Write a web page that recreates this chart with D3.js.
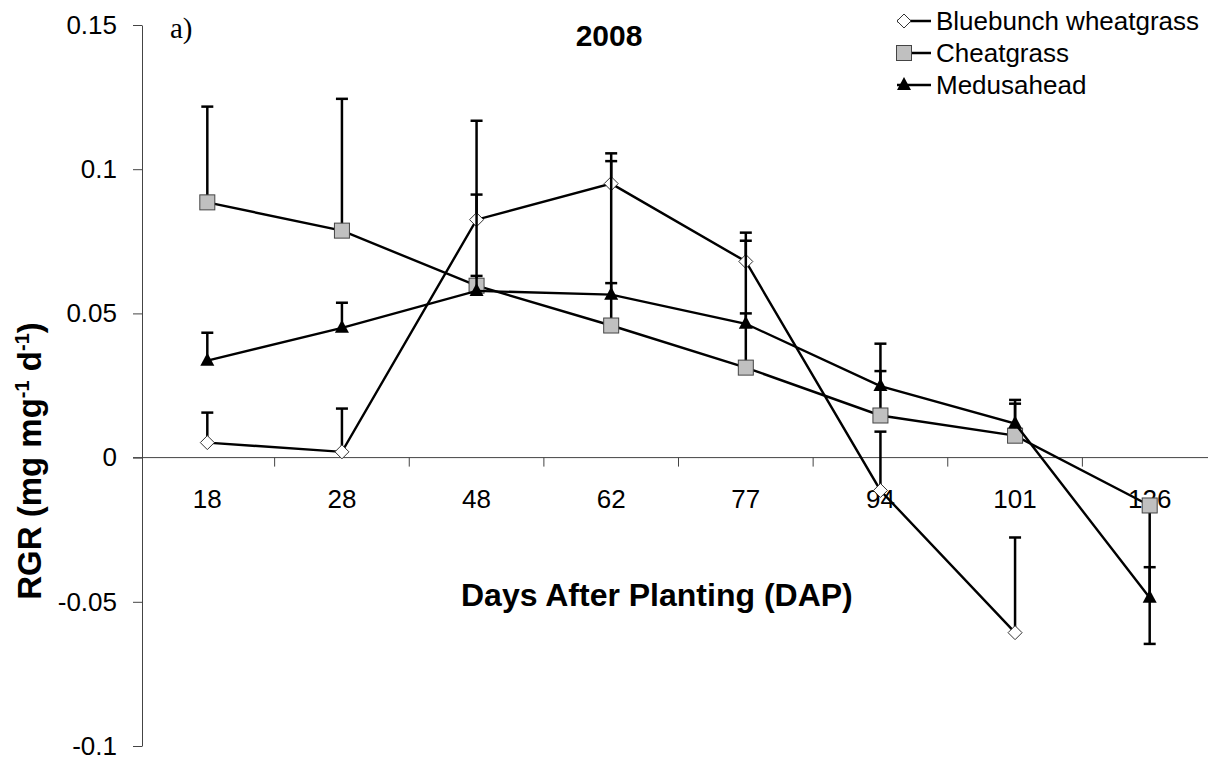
<!DOCTYPE html>
<html lang="en">

<head>
    <meta charset="utf-8">
    <title>RGR 2008</title>
    <script type="text/javascript" src="https://d3js.org/d3.v7.min.js"></script>
    <style>
        body { margin: 0; background: #fff; }
        text { font-family: "Liberation Sans", Arial, sans-serif; fill: #000; }
    </style>
</head>

<body>
    <div id="container"></div>
    <script type="text/javascript">
        // days after planting
        var days = ["18", "28", "48", "62", "77", "94", "101", "126"];

        // RGR means (null = no point)
        var bluebunch = [0.0052, 0.0020, 0.0825, 0.0950, 0.0680, -0.0114, -0.0607, null];
        var cheatgrass = [0.0885, 0.0787, 0.0596, 0.0458, 0.0312, 0.0146, 0.0076, -0.0166];
        var medusahead = [0.0336, 0.0450, 0.0578, 0.0565, 0.0464, 0.0248, 0.0118, -0.0486];

        // one-sided error bars (sign = direction)
        var bluebunchErr = [0.0104, 0.0150, 0.0343, 0.0105, 0.0100, 0.0204, 0.0330, null];
        var cheatgrassErr = [0.0332, 0.0457, 0.0316, 0.0570, 0.0440, 0.0154, 0.0111, -0.0480];
        var medusaheadErr = [0.0097, 0.0087, 0.0052, 0.0040, 0.0036, 0.0147, 0.0082, 0.0106];

        var yTicks = [-0.1, -0.05, 0, 0.05, 0.1, 0.15];

        var w = 1215;
        var h = 761;
        const svg = d3.select("div#container")
            .append("svg")
            .attr("width", w)
            .attr("height", h);

        var x = d3.scaleBand().domain(days).range([140, 1217]);
        var y = d3.scaleLinear().domain([-0.1, 0.15]).range([746, 25]);
        var cx = (d) => x(d) + x.bandwidth() / 2;

        // y axis
        var yAxis = d3.axisLeft(y)
            .tickValues(yTicks)
            .tickFormat((d) => String(+d.toFixed(2)))
            .tickSize(9)
            .tickSizeOuter(0)
            .tickPadding(16);
        var gy = svg.append("g").attr("transform", "translate(142,0)").call(yAxis);
        gy.select(".domain").attr("stroke", "#444");
        gy.selectAll(".tick line").attr("stroke", "#444");
        gy.selectAll("text").style("font-size", "26px").attr("fill", "#000");

        // x axis at zero: line, boundary ticks, centred labels
        var y0 = y(0);
        svg.append("line")
            .attr("x1", 133).attr("x2", 1208)
            .attr("y1", y0).attr("y2", y0)
            .attr("stroke", "#444");
        svg.selectAll("line.xtick")
            .data(days.slice(1))
            .enter()
            .append("line")
            .attr("class", "xtick")
            .attr("x1", (d) => x(d)).attr("x2", (d) => x(d))
            .attr("y1", y0).attr("y2", y0 + 9)
            .attr("stroke", "#444");
        svg.selectAll("text.xlab")
            .data(days)
            .enter()
            .append("text")
            .attr("class", "xlab")
            .attr("x", cx)
            .attr("y", y0 + 50)
            .attr("text-anchor", "middle")
            .style("font-size", "26px")
            .text((d) => d);

        var series = [
            { name: "Bluebunch wheatgrass", vals: bluebunch, errs: bluebunchErr, shape: "diamond" },
            { name: "Cheatgrass", vals: cheatgrass, errs: cheatgrassErr, shape: "square" },
            { name: "Medusahead", vals: medusahead, errs: medusaheadErr, shape: "triangle" }
        ];

        function marker(sel, shape) {
            if (shape === "diamond") {
                sel.append("path").attr("d", "M0,-7L7,0L0,7L-7,0Z")
                    .attr("fill", "#fff").attr("stroke", "#333").attr("stroke-width", 1);
            } else if (shape === "square") {
                sel.append("rect").attr("x", -7.5).attr("y", -7.5).attr("width", 15).attr("height", 15)
                    .attr("fill", "#c0c0c0").attr("stroke", "#444").attr("stroke-width", 1);
            } else {
                sel.append("path").attr("d", "M0,-8L7,5L-7,5Z").attr("fill", "#000");
            }
        }

        var line = d3.line()
            .defined((d) => d.v !== null)
            .x((d) => cx(d.day))
            .y((d) => y(d.v));

        series.forEach(function (s) {
            var pts = days.map((d, i) => ({ day: d, v: s.vals[i], e: s.errs[i] }));
            var g = svg.append("g");

            // error bars
            var eb = g.selectAll("g.err")
                .data(pts.filter((p) => p.v !== null))
                .enter()
                .append("g");
            eb.append("line")
                .attr("x1", (p) => cx(p.day)).attr("x2", (p) => cx(p.day))
                .attr("y1", (p) => y(p.v)).attr("y2", (p) => y(p.v + p.e))
                .attr("stroke", "#000").attr("stroke-width", 2.5);
            eb.append("line")
                .attr("x1", (p) => cx(p.day) - 6).attr("x2", (p) => cx(p.day) + 6)
                .attr("y1", (p) => y(p.v + p.e)).attr("y2", (p) => y(p.v + p.e))
                .attr("stroke", "#000").attr("stroke-width", 2.5);

            g.append("path")
                .datum(pts)
                .attr("d", line)
                .attr("fill", "none")
                .attr("stroke", "#000")
                .attr("stroke-width", 2.4);

            g.selectAll("g.pt")
                .data(pts.filter((p) => p.v !== null))
                .enter()
                .append("g")
                .attr("transform", (p) => "translate(" + cx(p.day) + "," + y(p.v) + ")")
                .each(function () { marker(d3.select(this), s.shape); });
        });

        // legend
        var lg = svg.selectAll("g.legend")
            .data(series)
            .enter()
            .append("g")
            .attr("transform", (d, i) => "translate(0," + (21 + i * 32) + ")");
        lg.append("line")
            .attr("x1", 897).attr("x2", 931)
            .attr("y1", 0).attr("y2", 0)
            .attr("stroke", "#000").attr("stroke-width", 2.4);
        lg.append("g")
            .attr("transform", "translate(904,0)")
            .each(function (d) { marker(d3.select(this), d.shape); });
        lg.append("text")
            .attr("x", 936)
            .attr("y", 9)
            .style("font-size", "26px")
            .text((d) => d.name);

        // titles
        svg.append("text")
            .attr("x", 609).attr("y", 46)
            .attr("text-anchor", "middle")
            .style("font-size", "30px").style("font-weight", "bold")
            .text("2008");
        svg.append("text")
            .attr("x", 170).attr("y", 38)
            .style("font-family", "'Liberation Serif', 'Times New Roman', serif")
            .style("font-size", "29px")
            .text("a)");
        svg.append("text")
            .attr("x", 461).attr("y", 606)
            .style("font-size", "32px").style("font-weight", "bold")
            .text("Days After Planting (DAP)");

        var yt = svg.append("text")
            .attr("transform", "translate(41,461) rotate(-90)")
            .attr("text-anchor", "middle")
            .style("font-size", "33px").style("font-weight", "bold");
        yt.append("tspan").text("RGR (mg mg");
        yt.append("tspan").attr("dy", -12).style("font-size", "20px").text("-1");
        yt.append("tspan").attr("dy", 12).text(" d");
        yt.append("tspan").attr("dy", -12).style("font-size", "20px").text("-1");
        yt.append("tspan").attr("dy", 12).text(")");
    </script>
</body>

</html>
